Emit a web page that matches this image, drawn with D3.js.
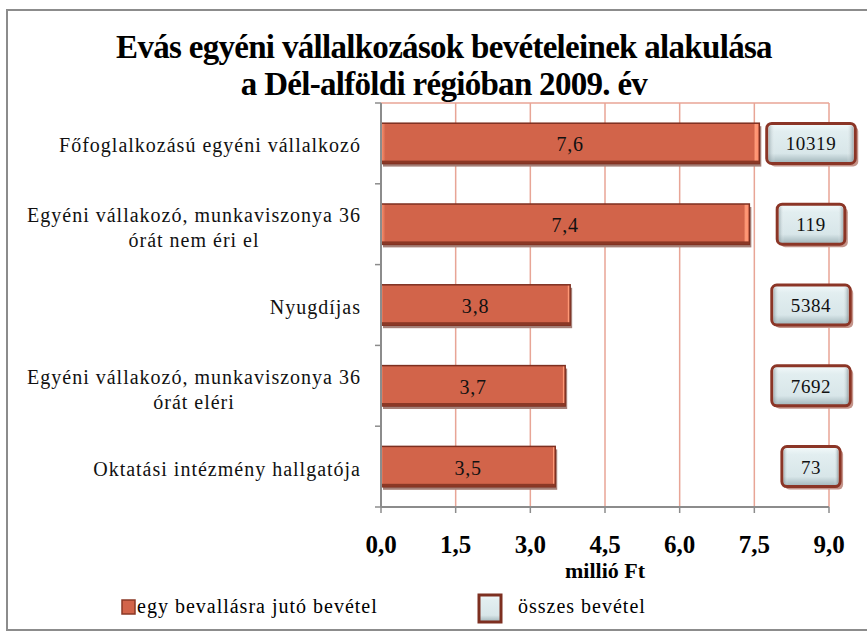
<!DOCTYPE html>
<html>
<head>
<meta charset="utf-8">
<script src="https://cdn.jsdelivr.net/npm/d3@7"></script>
<style>
  body { margin: 0; background: #fff; }
  svg { display: block; font-family: "Liberation Serif", "Times New Roman", serif; }
</style>
</head>
<body>
<div id="chart"></div>
<script>
// data
var categories = [
  ["Főfoglalkozású egyéni vállalkozó"],
  ["Egyéni vállakozó, munkaviszonya 36", "órát nem éri el"],
  ["Nyugdíjas"],
  ["Egyéni vállakozó, munkaviszonya 36", "órát eléri"],
  ["Oktatási intézmény hallgatója"]
];
var perReturn = [7.6, 7.4, 3.8, 3.7, 3.5];      // millió Ft
var totalIncome = [10319, 119, 5384, 7692, 73];
var xTicks = [0, 1.5, 3, 4.5, 6, 7.5, 9];
var titleLines = ["Evás egyéni vállalkozások bevételeinek alakulása", "a Dél-alföldi régióban 2009. év"];
var legendLabels = ["egy bevallásra jutó bevétel", "összes bevétel"];

var width = 867, height = 633;
var plot = {left: 381, right: 829, top: 103, bottom: 507};

var svg = d3.select('#chart').append('svg')
  .attr('width', width)
  .attr('height', height);

var defs = svg.append('defs');

// bar gradient: light edges left/right
var barGrad = defs.append('linearGradient').attr('id', 'barGrad')
  .attr('x1', '0%').attr('x2', '100%').attr('y1', '0%').attr('y2', '0%');
[[0, '#ff9a78'], [0.012, '#d2644a'], [0.985, '#d2644a'], [0.99, '#ff9a78'], [1, '#ff8a68']].forEach(function(s){
  barGrad.append('stop').attr('offset', s[0]).attr('stop-color', s[1]);
});

// label box gradient (pillow look)
var boxGrad = defs.append('linearGradient').attr('id', 'boxGrad')
  .attr('x1', '0%').attr('x2', '0%').attr('y1', '0%').attr('y2', '100%');
[[0, '#f4fafb'], [0.2, '#e2eef0'], [0.75, '#d8e6e9'], [1, '#9fb3b8']].forEach(function(s){
  boxGrad.append('stop').attr('offset', s[0]).attr('stop-color', s[1]);
});
var boxSide = defs.append('linearGradient').attr('id', 'boxSide')
  .attr('x1', '0%').attr('x2', '100%').attr('y1', '0%').attr('y2', '0%');
[[0, 'rgba(120,140,145,0.5)'], [0.08, 'rgba(255,255,255,0)'], [0.92, 'rgba(255,255,255,0)'], [1, 'rgba(120,140,145,0.6)']].forEach(function(s){
  boxSide.append('stop').attr('offset', s[0]).attr('stop-color', s[1]);
});

// outer chart border
svg.append('rect')
  .attr('x', 7).attr('y', 10)
  .attr('width', 880).attr('height', 620)
  .attr('fill', '#fff')
  .attr('stroke', '#8c8c8c')
  .attr('stroke-width', 2);

// title
svg.append('g').selectAll('text')
  .data(titleLines)
  .enter().append('text')
  .attr('x', 444)
  .attr('y', function(d, i){ return 58 + i * 37; })
  .attr('text-anchor', 'middle')
  .style('font-size', '33px')
  .style('font-weight', 'bold')
  .style('letter-spacing', '-0.7px')
  .text(function(d){ return d; });

var x = d3.scaleLinear().domain([0, 9]).range([plot.left, plot.right]);
var y = d3.scaleBand().domain(d3.range(categories.length))
  .range([plot.top, plot.bottom])
  .paddingInner(0.5).paddingOuter(0.25);
var band = d3.scaleBand().domain(d3.range(categories.length)).range([plot.top, plot.bottom]);

// gridlines
svg.append('g').selectAll('line')
  .data(xTicks.slice(1))
  .enter().append('line')
  .attr('x1', function(d){ return x(d); })
  .attr('x2', function(d){ return x(d); })
  .attr('y1', plot.top).attr('y2', plot.bottom)
  .attr('stroke', '#e8a596')
  .attr('stroke-width', 1.5);
svg.append('line')
  .attr('x1', plot.left).attr('x2', plot.right)
  .attr('y1', plot.top).attr('y2', plot.top)
  .attr('stroke', '#e8a596').attr('stroke-width', 1.5);

// bars
var bars = svg.append('g');
bars.selectAll('.shadow')
  .data(perReturn)
  .enter().append('rect')
  .attr('class', 'shadow')
  .attr('x', plot.left + 2)
  .attr('y', function(d, i){ return y(i) + 3; })
  .attr('width', function(d){ return x(d) - plot.left; })
  .attr('height', y.bandwidth())
  .attr('fill', '#a58078');
bars.selectAll('.bar')
  .data(perReturn)
  .enter().append('rect')
  .attr('class', 'bar')
  .attr('x', plot.left)
  .attr('y', function(d, i){ return y(i); })
  .attr('width', function(d){ return x(d) - plot.left; })
  .attr('height', y.bandwidth())
  .attr('fill', 'url(#barGrad)')
  .attr('stroke', '#7d2f20')
  .attr('stroke-width', 1.5);
bars.selectAll('.bottomEdge')
  .data(perReturn)
  .enter().append('rect')
  .attr('x', plot.left)
  .attr('y', function(d, i){ return y(i) + y.bandwidth() - 3; })
  .attr('width', function(d){ return x(d) - plot.left; })
  .attr('height', 3)
  .attr('fill', '#8a3826');
bars.selectAll('.val')
  .data(perReturn)
  .enter().append('text')
  .attr('x', function(d){ return (plot.left + x(d)) / 2; })
  .attr('y', function(d, i){ return y(i) + y.bandwidth() / 2 + 8; })
  .attr('text-anchor', 'middle')
  .style('font-size', '20px')
  .style('letter-spacing', '0.8px')
  .style('fill', '#111')
  .text(function(d){ return d3.format('.1f')(d).replace('.', ','); });

// axes
svg.append('line')
  .attr('x1', plot.left).attr('x2', plot.left)
  .attr('y1', plot.top).attr('y2', plot.bottom)
  .attr('stroke', '#8c8c8c').attr('stroke-width', 2);
svg.append('line')
  .attr('x1', plot.left).attr('x2', plot.right)
  .attr('y1', plot.bottom).attr('y2', plot.bottom)
  .attr('stroke', '#8c8c8c').attr('stroke-width', 2);
svg.append('g').selectAll('line')
  .data(d3.range(categories.length + 1))
  .enter().append('line')
  .attr('x1', plot.left - 6).attr('x2', plot.left)
  .attr('y1', function(d){ return d < categories.length ? band(d) : plot.bottom; })
  .attr('y2', function(d){ return d < categories.length ? band(d) : plot.bottom; })
  .attr('stroke', '#8c8c8c').attr('stroke-width', 1.5);
svg.append('g').selectAll('line')
  .data(xTicks)
  .enter().append('line')
  .attr('x1', function(d){ return x(d); })
  .attr('x2', function(d){ return x(d); })
  .attr('y1', plot.bottom).attr('y2', plot.bottom + 6)
  .attr('stroke', '#8c8c8c').attr('stroke-width', 1.5);
svg.append('g').selectAll('text')
  .data(xTicks)
  .enter().append('text')
  .attr('x', function(d){ return x(d); })
  .attr('y', 553)
  .attr('text-anchor', 'middle')
  .style('font-size', '25px')
  .style('font-weight', 'bold')
  .text(function(d){ return d3.format('.1f')(d).replace('.', ','); });
svg.append('text')
  .attr('x', x(4.5)).attr('y', 578)
  .attr('text-anchor', 'middle')
  .style('font-size', '22px')
  .style('font-weight', 'bold')
  .text('millió Ft');

// category labels: block centred, widest line right-aligned at 361
var catG = svg.append('g');
categories.forEach(function(lines, i){
  var t = catG.append('text')
    .attr('text-anchor', 'middle')
    .style('font-size', '20px')
    .style('letter-spacing', '1px')
    .style('fill', '#111');
  var cy = band(i) + band.bandwidth() / 2;
  var startY = lines.length > 1 ? cy - 2 : cy + 9;
  lines.forEach(function(l, j){
    t.append('tspan').attr('y', startY + j * 25).text(l);
  });
  var maxW = 0;
  t.selectAll('tspan').each(function(){ maxW = Math.max(maxW, this.getComputedTextLength()); });
  t.selectAll('tspan').attr('x', 361 - maxW / 2);
});

// total income label boxes
var boxes = svg.append('g');
totalIncome.forEach(function(v, i){
  var cy = band(i) + band.bandwidth() / 2;
  var cx = 811;
  var g = boxes.append('g');
  var txt = g.append('text')
    .attr('x', cx).attr('y', cy + 7)
    .attr('text-anchor', 'middle')
    .style('font-size', '19px')
    .style('letter-spacing', '0.6px')
    .style('fill', '#111')
    .text(v);
  var w = txt.node().getComputedTextLength() + 38;
  var h = 40;
  g.insert('rect', 'text')
    .attr('x', cx - w / 2 + 3).attr('y', cy - h / 2 + 3)
    .attr('width', w).attr('height', h).attr('rx', 5)
    .attr('fill', '#c4948a');
  g.insert('rect', 'text')
    .attr('x', cx - w / 2).attr('y', cy - h / 2)
    .attr('width', w).attr('height', h).attr('rx', 5)
    .attr('fill', 'url(#boxGrad)')
    .attr('stroke', '#8b3526').attr('stroke-width', 3);
  g.insert('rect', 'text')
    .attr('x', cx - w / 2 + 2).attr('y', cy - h / 2 + 2)
    .attr('width', w - 4).attr('height', h - 4).attr('rx', 3)
    .attr('fill', 'url(#boxSide)');
});

// legend
var leg = svg.append('g');
leg.append('rect')
  .attr('x', 122).attr('y', 600).attr('width', 13).attr('height', 14)
  .attr('fill', '#d2644a').attr('stroke', '#8a3826').attr('stroke-width', 1.5);
leg.append('text')
  .attr('x', 137).attr('y', 613)
  .style('font-size', '20px')
  .style('letter-spacing', '1px')
  .text(legendLabels[0]);
leg.append('rect')
  .attr('x', 479).attr('y', 595).attr('width', 22).attr('height', 27)
  .attr('fill', 'url(#boxGrad)')
  .attr('stroke', '#7d2f20').attr('stroke-width', 3);
leg.append('text')
  .attr('x', 518).attr('y', 613)
  .style('font-size', '20px')
  .style('letter-spacing', '1px')
  .text(legendLabels[1]);
</script>
</body>
</html>
